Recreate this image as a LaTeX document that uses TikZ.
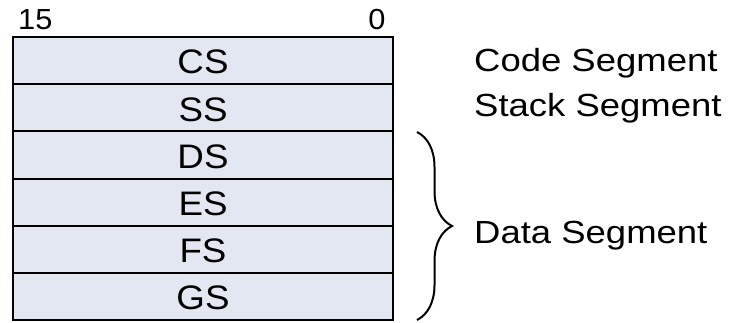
\documentclass[tikz,border=0pt]{standalone}
\usepackage{fontspec}
\setmainfont[FakeStretch=1.14]{Liberation Sans}
\newfontfamily\rowfont[FakeStretch=1.08]{Liberation Sans}
\newfontfamily\bitfont[FakeStretch=1.06]{Liberation Sans}
\usetikzlibrary{decorations.pathreplacing}
\definecolor{regfill}{RGB}{227,231,242}
\tikzset{
  regrow/.style={draw=black, fill=regfill, line width=2pt,
    minimum width=380pt, minimum height=47.17pt, inner sep=0pt, outer sep=0pt,
    font=\rowfont\fontsize{34}{40}\selectfont,
    text height=26.8pt, text depth=0pt},
  lbl/.style={inner sep=0pt, anchor=base west},
  bitno/.style={inner sep=0pt, font=\bitfont\fontsize{29}{35}\selectfont},
}
\begin{document}
\begin{tikzpicture}[x=1pt, y=1pt, font=\fontsize{32}{38}\selectfont]
\useasboundingbox (0,0) rectangle (730,322);
% segment register stack, 16 bits wide
\node[regrow] (cs) at (203,261.4) {CS};
\node[regrow, anchor=north] (ss) at (cs.south) {SS};
\node[regrow, anchor=north] (ds) at (ss.south) {DS};
\node[regrow, anchor=north] (es) at (ds.south) {ES};
\node[regrow, anchor=north] (fs) at (es.south) {FS};
\node[regrow, anchor=north] (gs) at (fs.south) {GS};
% bit numbers
\node[bitno, anchor=base west] (b15) at (18,292.5) {15};
\node[bitno, anchor=base] (b0) at (377,292.5) {0};
% descriptions
\node[lbl] (code) at (474,251) {Code Segment};
\node[lbl] (stack) at (474,206) {Stack Segment};
\node[lbl] (data) at (474,79) {Data Segment};
% brace grouping the data segment registers
\coordinate (bt) at (417,190);
\coordinate (bb) at (417,2);
\draw[line width=2pt, decorate, decoration={brace, amplitude=35pt}] (bt) -- (bb);
\end{tikzpicture}
\end{document}
